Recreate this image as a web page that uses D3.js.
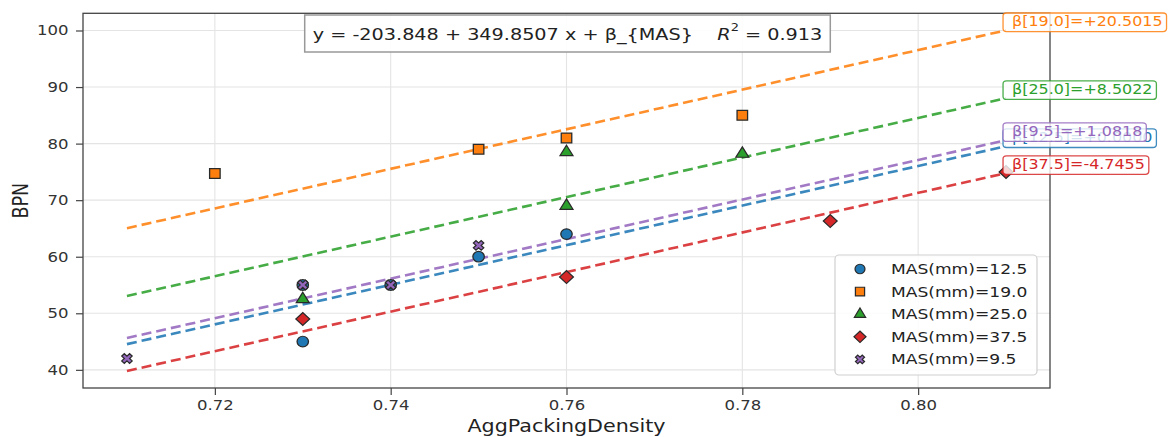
<!DOCTYPE html>
<html><head><meta charset="utf-8">
<script src="https://cdn.jsdelivr.net/npm/d3@7"></script>
<style>body{margin:0;background:#fff;} svg{display:block;font-family:"DejaVu Sans",sans-serif;}</style>
</head><body><svg id="chart" width="1169" height="437"></svg>
<script>
// ---- data ----
const categories = ["12.5", "19.0", "25.0", "37.5", "9.5"];
const legendLabels = ["MAS(mm)=12.5", "MAS(mm)=19.0", "MAS(mm)=25.0", "MAS(mm)=37.5", "MAS(mm)=9.5"];
const colors = ["#1f77b4", "#ff7f0e", "#2ca02c", "#d62728", "#9467bd"];
const markers = ["circle", "square", "triangle", "diamond", "x"];
const betas = [0.0, 20.5015, 8.5022, -4.7455, 1.0818];
const betaLabels = ["β[12.5]=+0.0000", "β[19.0]=+20.5015", "β[25.0]=+8.5022", "β[37.5]=-4.7455", "β[9.5]=+1.0818"];
const intercept = -203.848, slope = 349.8507, r2 = 0.913;
const fitRange = [0.71, 0.81];
const density125 = [0.73, 0.73, 0.74, 0.75, 0.76], bpn125 = [45, 55, 55, 60, 64];
const density190 = [0.72, 0.75, 0.76, 0.78],       bpn190 = [74.7, 79, 81, 85];
const density250 = [0.73, 0.76, 0.76, 0.78],       bpn250 = [52.5, 69, 78.5, 78.2];
const density375 = [0.73, 0.76, 0.79, 0.81],       bpn375 = [49, 56.4, 66.3, 75];
const density95  = [0.71, 0.73, 0.74, 0.75],       bpn95  = [42, 55, 55, 62];
const xTicks = [0.72, 0.74, 0.76, 0.78, 0.80];
const yTicks = [40, 50, 60, 70, 80, 90, 100];
const xLabel = "AggPackingDensity", yLabel = "BPN";

const seriesX = [density125, density190, density250, density375, density95];
const seriesY = [bpn125, bpn190, bpn250, bpn375, bpn95];

// ---- layout ----
const S = 1.18; // horizontal stretch of the reference rendering
const L = 83, R = 1050, T = 13.3, B = 388;
const svg = d3.select("#chart");
const x = d3.scaleLinear().domain([0.705, 0.815]).range([L, R]);
const y = d3.scaleLinear().domain([36.79, 103.04]).range([B, T]);

// grid
const grid = svg.append("g");
grid.selectAll("line.gx").data(xTicks).join("line")
  .attr("x1", d => x(d)).attr("x2", d => x(d)).attr("y1", T).attr("y2", B)
  .attr("stroke", "#e4e4e4").attr("stroke-width", 1.1);
grid.selectAll("line.gy").data(yTicks).join("line")
  .attr("y1", d => y(d)).attr("y2", d => y(d)).attr("x1", L).attr("x2", R)
  .attr("stroke", "#e4e4e4").attr("stroke-width", 1.1);

// axes
const gx = svg.append("g").attr("transform", `translate(0,${B})`)
  .call(d3.axisBottom(x).tickValues(xTicks).tickFormat(d3.format(".2f")).tickSize(7).tickSizeOuter(0));
const gy = svg.append("g").attr("transform", `translate(${L},0)`)
  .call(d3.axisLeft(y).tickValues(yTicks).tickSize(7).tickSizeOuter(0));
[gx, gy].forEach(g => {
  g.select(".domain").remove();
  g.selectAll(".tick line").attr("stroke", "#444").attr("stroke-width", 1.2);
  g.selectAll(".tick text").attr("fill", "#333").style("font-size", "14px").style("font-family", "DejaVu Sans");
});
gx.selectAll(".tick text").attr("y", 0).attr("dy", 0).attr("transform", `translate(0,22) scale(${S},1)`);
gy.selectAll(".tick text").attr("x", 0).attr("transform", `translate(-14.5,0) scale(${S},1)`);

// frame
svg.append("rect").attr("x", L).attr("y", T).attr("width", R - L).attr("height", B - T)
  .attr("fill", "none").attr("stroke", "#444").attr("stroke-width", 1.3);

// axis labels
svg.append("text").attr("transform", `translate(${(L + R) / 2},432) scale(${S},1)`)
  .attr("text-anchor", "middle").style("font-size", "17.5px").attr("fill", "#222").text(xLabel);
svg.append("text").attr("transform", `translate(28,${(T + B) / 2}) scale(${S},1) rotate(-90)`)
  .attr("text-anchor", "middle").style("font-size", "17.5px").attr("fill", "#222").text(yLabel);

// fitted lines
const plot = svg.append("g");
categories.forEach((c, i) => {
  const pts = fitRange.map(d => [x(d), y(intercept + slope * d + betas[i])]);
  plot.append("path").attr("d", d3.line()(pts))
    .attr("fill", "none").attr("stroke", colors[i]).attr("stroke-width", 2.6)
    .attr("stroke-dasharray", "10,5").attr("opacity", 0.88);
});

// markers
function symPath(m, k) {
  k = k || 1;
  if (m === "circle") return d3.symbol(d3.symbolCircle, 88 * k)();
  if (m === "square") return d3.symbol(d3.symbolSquare, 95 * k)();
  if (m === "triangle") return d3.symbol(d3.symbolTriangle, 62 * k)();
  if (m === "diamond") return d3.symbol(d3.symbolSquare, 82 * k)();
  return d3.symbol(d3.symbolCross, 58 * k)();
}
function symRot(m) { return (m === "diamond" || m === "x") ? 45 : 0; }
categories.forEach((c, i) => {
  const data = seriesX[i].map((d, j) => [d, seriesY[i][j]]);
  plot.selectAll(null).data(data).join("path")
    .attr("d", symPath(markers[i]))
    .attr("transform", d => `translate(${x(d[0])},${y(d[1])}) scale(1.08,1) rotate(${symRot(markers[i])})`)
    .attr("fill", colors[i]).attr("stroke", "#2a2a2a").attr("stroke-width", 1.2);
});

// beta annotations
categories.forEach((c, i) => {
  const px = x(fitRange[1]), py = y(intercept + slope * fitRange[1] + betas[i]);
  const g = svg.append("g").attr("transform", `translate(${px + 6},${py - 4}) scale(${S},1)`);
  const rect = g.append("rect");
  const t = g.append("text").attr("x", 0).attr("y", 0).style("font-size", "13.5px")
    .attr("fill", colors[i]).text(betaLabels[i]);
  const bb = t.node().getBBox();
  const lx = -9 / S, rx = bb.x + bb.width + 4 / S;
  rect.attr("x", lx).attr("y", bb.y - 0.5).attr("width", rx - lx).attr("height", bb.height + 3)
    .attr("rx", 3).attr("fill", "white").attr("fill-opacity", 0.8)
    .attr("stroke", colors[i]).attr("stroke-opacity", 0.85).attr("stroke-width", 1.3)
    .attr("vector-effect", "non-scaling-stroke");
});

// equation box
const eqG = svg.append("g").attr("transform", `translate(567.5,33.5) scale(${S},1)`);
const eqRect = eqG.append("rect");
const eq = eqG.append("text").attr("text-anchor", "middle").attr("dominant-baseline", "central")
  .style("font-size", "16.3px").style("white-space", "pre").attr("fill", "#222");
eq.append("tspan").text(`y = ${intercept} + ${slope} x + β_{MAS}    `);
eq.append("tspan").style("font-style", "italic").text("R");
eq.append("tspan").attr("dy", -6).style("font-size", "11px").text("2");
eq.append("tspan").attr("dy", 6).text(` = ${r2}`);
const eb = eq.node().getBBox();
eqRect.attr("x", eb.x - 8 / S).attr("y", -18.5).attr("width", eb.width + 16 / S).attr("height", 37)
  .attr("fill", "white").attr("fill-opacity", 0.9).attr("stroke", "#999").attr("stroke-width", 1.5)
  .attr("vector-effect", "non-scaling-stroke");

// legend
const lg = svg.append("g");
lg.append("rect").attr("x", 835).attr("y", 255).attr("width", 202).attr("height", 120).attr("rx", 4)
  .attr("fill", "white").attr("fill-opacity", 0.85).attr("stroke", "#d0d0d0").attr("stroke-width", 1.2);
categories.forEach((c, i) => {
  const cy = 269 + i * 22.6;
  lg.append("path").attr("d", symPath(markers[i], 0.8))
    .attr("transform", `translate(860,${cy}) scale(1.05,1) rotate(${symRot(markers[i])})`)
    .attr("fill", colors[i]).attr("stroke", "#2a2a2a").attr("stroke-width", 1.2);
  lg.append("text").attr("transform", `translate(891,${cy}) scale(${S},1)`)
    .attr("dominant-baseline", "central").style("font-size", "14.5px").attr("fill", "#222")
    .text(legendLabels[i]);
});
</script></body></html>
